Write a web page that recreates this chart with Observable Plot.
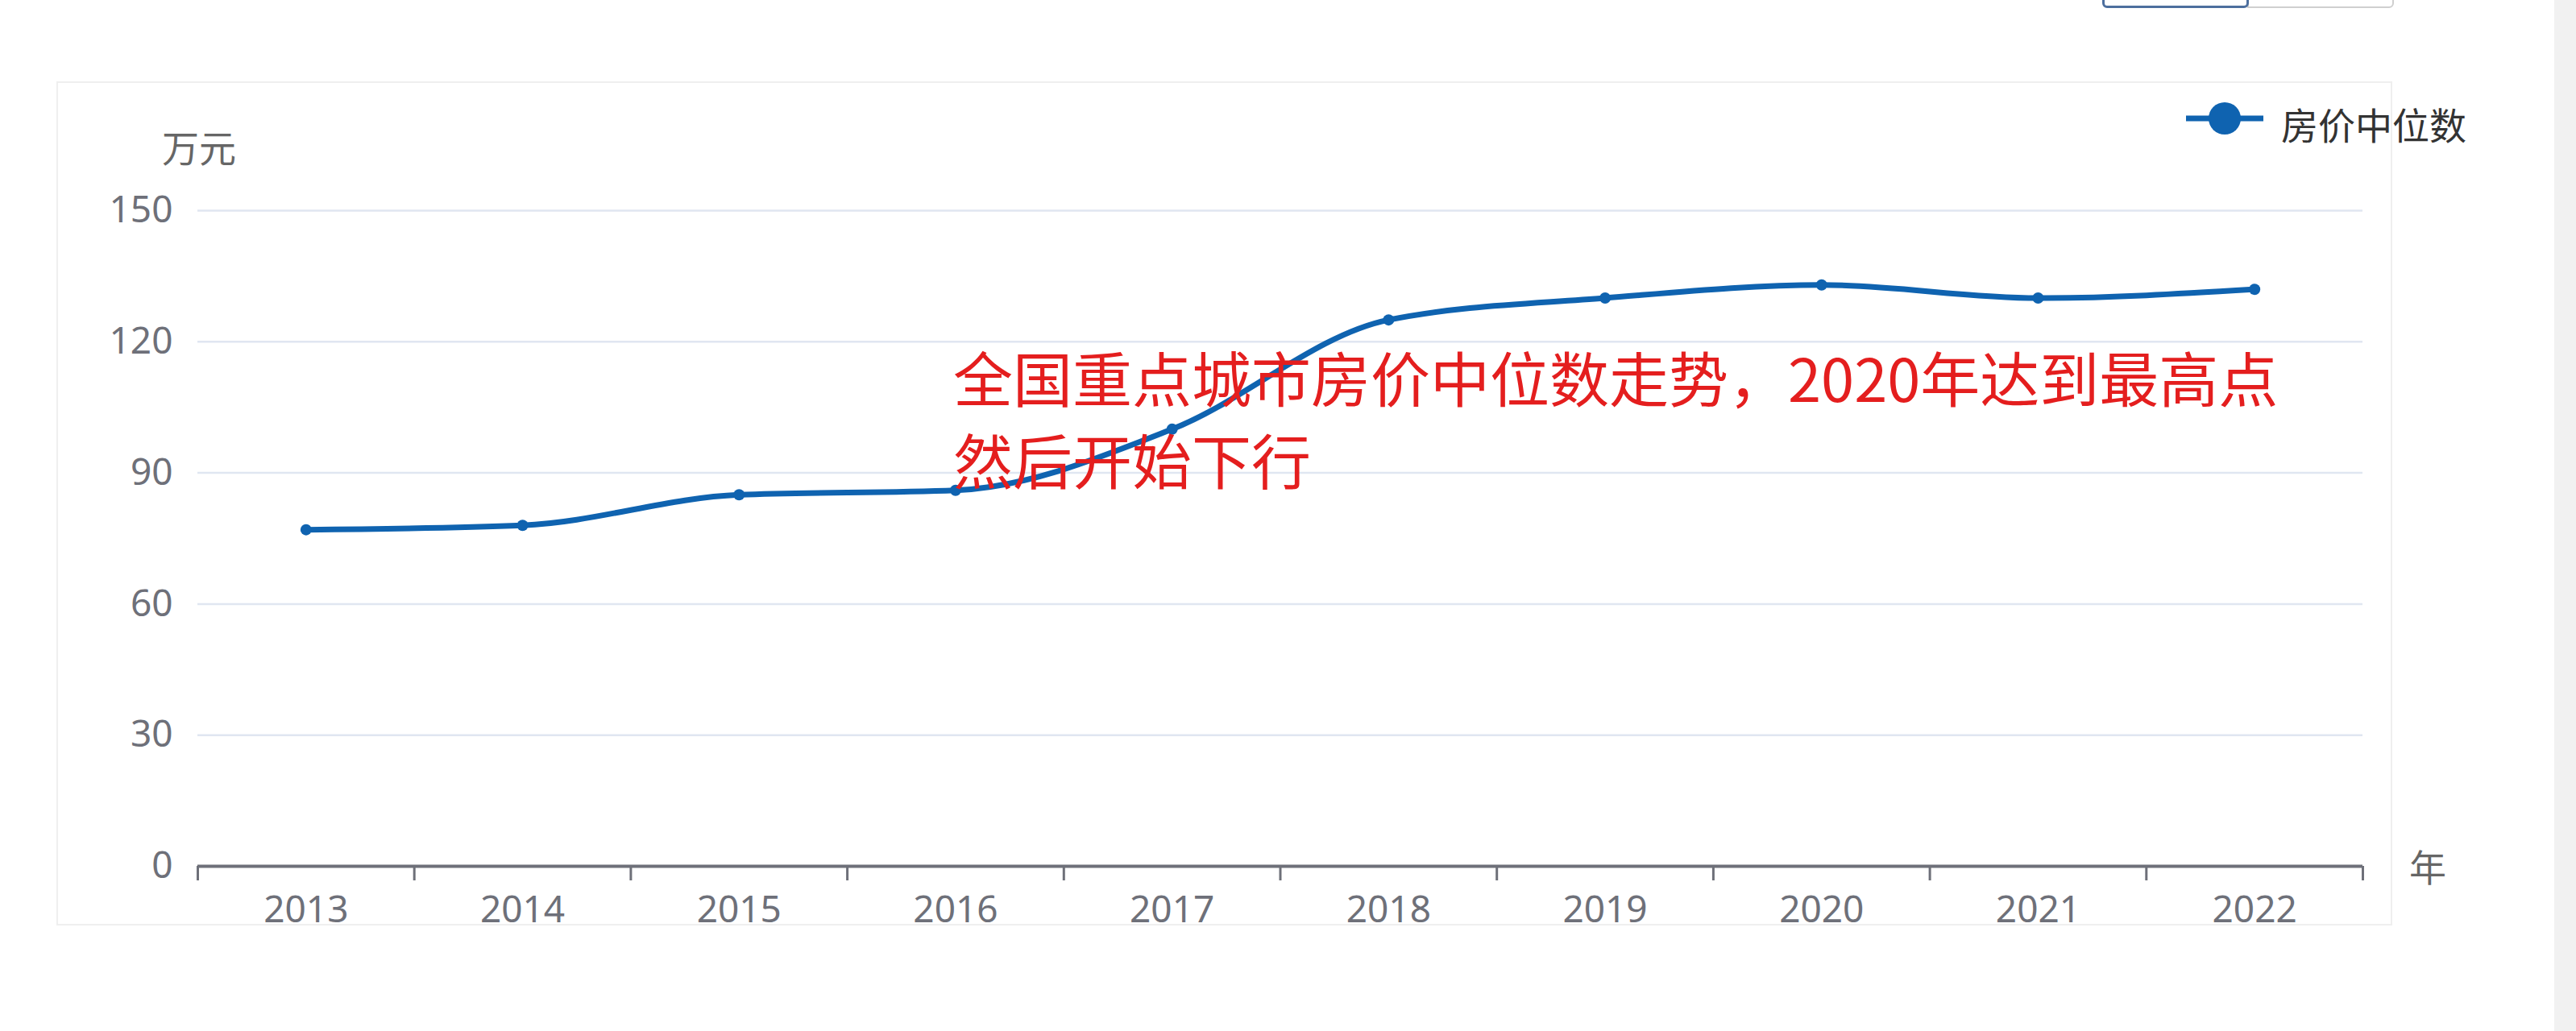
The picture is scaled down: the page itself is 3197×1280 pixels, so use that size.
<!DOCTYPE html>
<html>
<head>
<meta charset="utf-8">
<script src="https://cdn.jsdelivr.net/npm/d3@7"></script>
<script src="https://cdn.jsdelivr.net/npm/@observablehq/plot@0.6"></script>
<style>
  html, body { margin: 0; padding: 0; background: #ffffff; }
  body { width: 3197px; height: 1280px; position: relative; overflow: hidden;
         font-family: "Noto Sans", "Noto Sans CJK SC", sans-serif; }
  .abs { position: absolute; }
  #panel { left: 70px; top: 101px; width: 2899px; height: 1048px; border: 2px solid #efefef; box-sizing: border-box; }
  #scroll { left: 3170px; top: 0; width: 27px; height: 1280px; background: #f1f1f1; }
  #btn1 { left: 2609px; top: -20px; width: 182px; height: 30px; border: 3px solid #4d6f9e; border-radius: 6px; box-sizing: border-box; background: #fff; }
  #btn2 { left: 2789px; top: -20px; width: 182px; height: 30px; border: 2px solid #cfcfcf; border-radius: 0 6px 6px 0; box-sizing: border-box; background: #fff; }
  #chart { left: 0; top: 0; }
  .axname { font-size: 46px; color: #666; line-height: 1; white-space: nowrap; font-family: "Noto Sans CJK SC", sans-serif; }
  #note { left: 1183px; top: 416px; font-size: 74px; line-height: 102px; color: #e41e1e; font-family: "Noto Sans CJK SC", sans-serif; white-space: nowrap; }
  #legendText { left: 2831px; top: 126px; font-size: 46px; color: #333; line-height: 54px; font-family: "Noto Sans CJK SC", sans-serif; white-space: nowrap; }
</style>
</head>
<body>
<div id="scroll" class="abs"></div>
<div id="btn2" class="abs"></div>
<div id="btn1" class="abs"></div>
<div id="panel" class="abs"></div>
<div id="chart" class="abs"></div>
<div class="abs axname" style="left:201px; top:158px;">万元</div>
<div class="abs axname" style="left:2990px; top:1051px;">年</div>
<svg class="abs" style="left:2700px; top:120px;" width="130" height="60">
  <line x1="13" y1="27" x2="109" y2="27" stroke="#0f63b0" stroke-width="7"/>
  <circle cx="61" cy="27" r="20" fill="#0f63b0"/>
</svg>
<div id="legendText" class="abs">房价中位数</div>
<div id="note" class="abs">全国重点城市房价中位数走势，2020年达到最高点<br>然后开始下行</div>
<script>
const years = [2013, 2014, 2015, 2016, 2017, 2018, 2019, 2020, 2021, 2022];
const prices = [77, 78, 85, 86, 100, 125, 130, 133, 130, 132];
const yTicks = [0, 30, 60, 90, 120, 150];
const gridTicks = [30, 60, 90, 120, 150];
const bandEdges = [2012.5, ...years.map(y => y + 0.5)];

const data = years.map((y, i) => ({year: y, price: prices[i]}));
const blue = "#0f63b0";
const axisGray = "#6e7079";

const chart = Plot.plot({
  width: 3197,
  height: 1280,
  marginLeft: 245,
  marginRight: 265,
  marginTop: 261,
  marginBottom: 205,
  style: {
    background: "transparent",
    fontSize: "46px",
    fontFamily: "'Noto Sans', 'Noto Sans CJK SC', sans-serif",
    color: axisGray,
    overflow: "visible"
  },
  x: {domain: [2012.5, 2022.5], label: null},
  y: {domain: [0, 150], label: null},
  marks: [
    Plot.gridY(gridTicks, {stroke: "#e0e6f1", strokeOpacity: 1, strokeWidth: 2.5}),
    Plot.axisY({ticks: yTicks, tickSize: 0, tickPadding: 31, label: null, tickFormat: d => String(d), fill: axisGray}),
    Plot.ruleY([0], {stroke: axisGray, strokeWidth: 4}),
    Plot.axisX({ticks: bandEdges, tickSize: 18, strokeWidth: 3, stroke: axisGray, label: null, tickFormat: () => ""}),
    Plot.axisX({ticks: years, tickSize: 0, tickPadding: 37, label: null, tickFormat: d => String(d), fill: axisGray}),
    Plot.line(data, {x: "year", y: "price", curve: "monotone-x", stroke: blue, strokeWidth: 7}),
    Plot.dot(data, {x: "year", y: "price", r: 7, fill: blue})
  ]
});
document.getElementById("chart").appendChild(chart);
</script>
</body>
</html>
